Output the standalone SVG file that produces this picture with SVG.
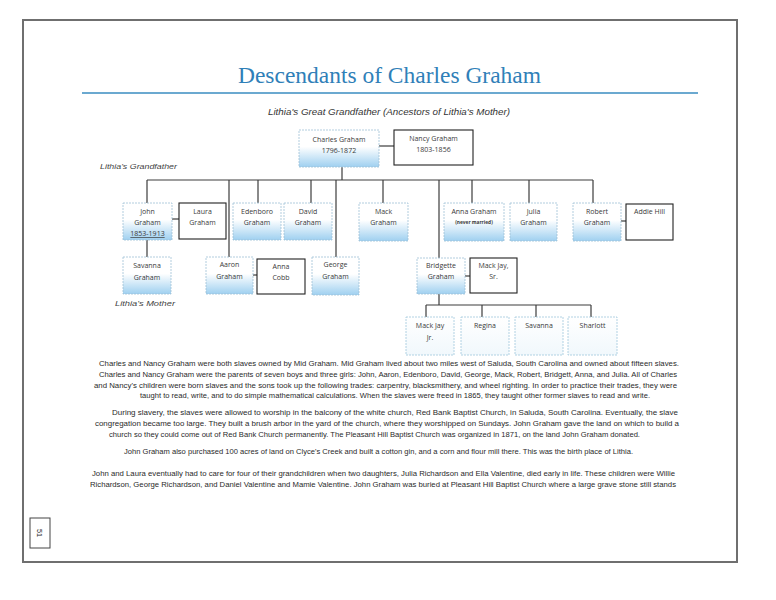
<svg xmlns="http://www.w3.org/2000/svg" width="776" height="600" viewBox="0 0 776 600">
<style>
.bg{fill:#ffffff}
.frame{fill:none;stroke:#6f6f6f;stroke-width:2}
.title{font-family:"Liberation Serif",serif;font-size:24px;fill:#2f80b8}
.rule{stroke:#3a8cc0;stroke-width:1.4}
.sub{font-family:"Liberation Sans",sans-serif;font-size:8.5px;font-style:italic;fill:#333}
.note{font-family:"Liberation Sans",sans-serif;font-size:8px;font-style:italic;fill:#444}
.bn{fill:url(#blue);stroke:#9fc0d6;stroke-width:0.8;stroke-dasharray:2 1}
.wn{fill:#ffffff;stroke:#222;stroke-width:1.1}
.cn{fill:url(#pale);stroke:#9fc6dc;stroke-width:0.8;stroke-dasharray:2 1}
.t{font-family:"Open Sans","Liberation Sans",sans-serif;font-size:7px;fill:#3a3a3a;text-anchor:middle}
.ts{font-family:"Open Sans","Liberation Sans",sans-serif;font-size:4.8px;font-weight:bold;fill:#3a3a3a;text-anchor:middle}
.conn line{stroke:#3c3c3c;stroke-width:1.2}
.p{font-family:"Liberation Sans",sans-serif;font-size:7.2px;fill:#2a2a2a}
.pg{fill:#ffffff;stroke:#444;stroke-width:1}
</style>
<defs>
<linearGradient id="blue" x1="0" y1="0" x2="0" y2="1">
<stop offset="0" stop-color="#ffffff"/>
<stop offset="0.45" stop-color="#ffffff"/>
<stop offset="1" stop-color="#9fd0f0"/>
</linearGradient>
<linearGradient id="pale" x1="0" y1="0" x2="0" y2="1">
<stop offset="0" stop-color="#ffffff"/>
<stop offset="1" stop-color="#f1f8fc"/>
</linearGradient>
</defs>
<rect class="bg" x="0" y="0" width="776" height="600"/>
<rect class="frame" x="23" y="20" width="714" height="542"/>

<text class="title" x="238" y="83" textLength="303" lengthAdjust="spacingAndGlyphs">Descendants of Charles Graham</text>
<line class="rule" x1="82" y1="93" x2="698" y2="93"/>
<text class="sub" x="268" y="115" textLength="242" lengthAdjust="spacingAndGlyphs">Lithia's Great Grandfather (Ancestors of Lithia's Mother)</text>
<text class="note" x="100" y="169" textLength="77" lengthAdjust="spacingAndGlyphs">Lithia's Grandfather</text>
<text class="note" x="115" y="306" textLength="60" lengthAdjust="spacingAndGlyphs">Lithia's Mother</text>

<g id="connectors" class="conn">
<line x1="379" y1="146" x2="394" y2="146"/>
<line x1="342" y1="167" x2="342" y2="180"/>
<line x1="147" y1="180" x2="593" y2="180"/>
<line x1="147" y1="180" x2="147" y2="203"/>
<line x1="229" y1="180" x2="229" y2="257"/>
<line x1="258" y1="180" x2="258" y2="203"/>
<line x1="311" y1="180" x2="311" y2="203"/>
<line x1="336" y1="180" x2="336" y2="257"/>
<line x1="383" y1="180" x2="383" y2="203"/>
<line x1="439" y1="180" x2="439" y2="258"/>
<line x1="472" y1="180" x2="472" y2="203"/>
<line x1="529" y1="180" x2="529" y2="203"/>
<line x1="593" y1="180" x2="593" y2="203"/>
<line x1="172" y1="219" x2="179" y2="219"/>
<line x1="621" y1="221" x2="626" y2="221"/>
<line x1="147" y1="240" x2="147" y2="257"/>
<line x1="253" y1="275" x2="257" y2="275"/>
<line x1="465" y1="276" x2="470" y2="276"/>
<line x1="439" y1="294" x2="439" y2="305"/>
<line x1="426" y1="305" x2="591" y2="305"/>
<line x1="426" y1="305" x2="426" y2="317"/>
<line x1="482" y1="305" x2="482" y2="317"/>
<line x1="536" y1="305" x2="536" y2="317"/>
<line x1="591" y1="305" x2="591" y2="317"/>
</g>

<g id="charles"><rect class="bn" x="299" y="130" width="80" height="37"/><text class="t" x="339" y="142">Charles Graham</text><text class="t" x="339" y="153">1796-1872</text></g>
<g id="nancy"><rect class="wn" x="394" y="130" width="79" height="35"/><text class="t" x="433.5" y="141">Nancy Graham</text><text class="t" x="433.5" y="152">1803-1856</text></g>

<g id="john"><rect class="bn" x="123" y="203" width="49" height="37"/><text class="t" x="147.5" y="214">John</text><text class="t" x="147.5" y="225">Graham</text><text class="t" x="147.5" y="236" text-decoration="underline">1853-1913</text></g>
<g id="laura"><rect class="wn" x="179" y="203" width="47" height="36"/><text class="t" x="202.5" y="214">Laura</text><text class="t" x="202.5" y="225">Graham</text></g>
<g id="edenboro"><rect class="bn" x="233" y="203" width="48" height="37"/><text class="t" x="257" y="214">Edenboro</text><text class="t" x="257" y="225">Graham</text></g>
<g id="david"><rect class="bn" x="284" y="203" width="48" height="37"/><text class="t" x="308" y="214">David</text><text class="t" x="308" y="225">Graham</text></g>
<g id="mack"><rect class="bn" x="359" y="203" width="49" height="38"/><text class="t" x="383.5" y="214">Mack</text><text class="t" x="383.5" y="225">Graham</text></g>
<g id="anna"><rect class="bn" x="444" y="203" width="60" height="38"/><text class="t" x="474" y="214">Anna Graham</text><text class="ts" x="474" y="224">(never married)</text></g>
<g id="julia"><rect class="bn" x="510" y="203" width="47" height="38"/><text class="t" x="533.5" y="214">Julia</text><text class="t" x="533.5" y="225">Graham</text></g>
<g id="robert"><rect class="bn" x="573" y="203" width="48" height="38"/><text class="t" x="597" y="214">Robert</text><text class="t" x="597" y="225">Graham</text></g>
<g id="addie"><rect class="wn" x="626" y="204" width="47" height="36"/><text class="t" x="649.5" y="214">Addie Hill</text></g>

<g id="savanna-graham"><rect class="bn" x="123" y="257" width="48" height="37"/><text class="t" x="147" y="268">Savanna</text><text class="t" x="147" y="280">Graham</text></g>
<g id="aaron"><rect class="bn" x="206" y="257" width="47" height="37"/><text class="t" x="229.5" y="267">Aaron</text><text class="t" x="229.5" y="279">Graham</text></g>
<g id="anna-cobb"><rect class="wn" x="257" y="259" width="48" height="35"/><text class="t" x="281" y="269">Anna</text><text class="t" x="281" y="280">Cobb</text></g>
<g id="george"><rect class="bn" x="312" y="257" width="47" height="38"/><text class="t" x="335.5" y="267">George</text><text class="t" x="335.5" y="279">Graham</text></g>
<g id="bridgette"><rect class="bn" x="417" y="258" width="48" height="36"/><text class="t" x="441" y="268">Bridgette</text><text class="t" x="441" y="279">Graham</text></g>
<g id="mack-jay-sr"><rect class="wn" x="470" y="258" width="47" height="35"/><text class="t" x="493.5" y="268">Mack Jay,</text><text class="t" x="493.5" y="279">Sr.</text></g>

<g id="mack-jay-jr"><rect class="cn" x="406" y="317" width="48" height="38"/><text class="t" x="430" y="328">Mack Jay</text><text class="t" x="430" y="340">Jr.</text></g>
<g id="regina"><rect class="cn" x="461" y="317" width="48" height="38"/><text class="t" x="485" y="328">Regina</text></g>
<g id="savanna"><rect class="cn" x="515" y="317" width="48" height="38"/><text class="t" x="539" y="328">Savanna</text></g>
<g id="sharlott"><rect class="cn" x="568" y="317" width="49" height="38"/><text class="t" x="592.5" y="328">Sharlott</text></g>

<g id="text">
<text class="p" x="99" y="366" textLength="580" lengthAdjust="spacingAndGlyphs">Charles and Nancy Graham were both slaves owned by Mid Graham.   Mid Graham lived about two miles west of Saluda, South Carolina and owned about fifteen slaves.</text>
<text class="p" x="99" y="377" textLength="578" lengthAdjust="spacingAndGlyphs">Charles and Nancy Graham were the parents of seven boys and three girls:  John, Aaron, Edenboro, David, George, Mack, Robert, Bridgett, Anna, and Julia.  All of Charles</text>
<text class="p" x="94" y="387.5" textLength="583" lengthAdjust="spacingAndGlyphs">and Nancy's children were born slaves and the sons took up the following trades:  carpentry, blacksmithery, and wheel righting.  In order to practice their trades, they were</text>
<text class="p" x="140" y="398" textLength="510" lengthAdjust="spacingAndGlyphs">taught to read, write, and to do simple mathematical calculations.  When the slaves were freed in 1865, they taught other former slaves to read and write.</text>
<text class="p" x="112" y="415" textLength="566" lengthAdjust="spacingAndGlyphs">During slavery, the slaves were allowed to worship in the balcony of the white church, Red Bank Baptist Church, in Saluda, South Carolina.  Eventually, the slave</text>
<text class="p" x="95" y="426" textLength="584" lengthAdjust="spacingAndGlyphs">congregation became too large.  They built a brush arbor in the yard of the church, where they worshipped on Sundays.  John Graham gave the land on which to build a</text>
<text class="p" x="109" y="436.5" textLength="531" lengthAdjust="spacingAndGlyphs">church so they could come out of Red Bank Church permanently.  The Pleasant Hill Baptist Church was organized in 1871, on the land John Graham donated.</text>
<text class="p" x="124" y="454" textLength="509" lengthAdjust="spacingAndGlyphs">John Graham also purchased 100 acres of land on Clyce's Creek and built a cotton gin, and a corn and flour mill there.  This was the birth place of Lithia.</text>
<text class="p" x="92" y="476" textLength="583" lengthAdjust="spacingAndGlyphs">John and Laura eventually had to care for four of their grandchildren when two daughters, Julia Richardson and Ella Valentine, died early in life.  These children were Willie</text>
<text class="p" x="90" y="487" textLength="586" lengthAdjust="spacingAndGlyphs">Richardson, George Richardson, and Daniel Valentine and Mamie Valentine.  John Graham was buried at Pleasant Hill Baptist Church where a large grave stone still stands</text>
</g>

<g id="page-number"><rect class="pg" x="30" y="518" width="20" height="30"/><text class="p" x="40" y="533" font-size="9" text-anchor="middle" transform="rotate(90 40 533)" dy="3">51</text></g>
</svg>
